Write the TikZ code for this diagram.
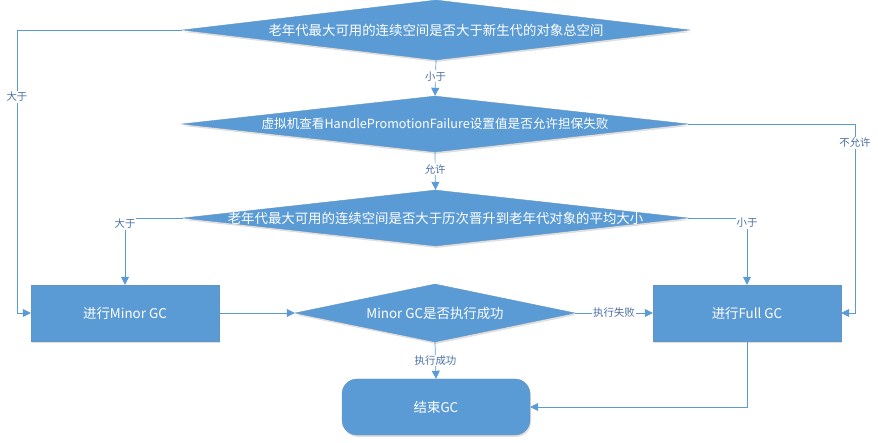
\documentclass[tikz,border=0pt]{standalone}
\usepackage{fontspec}
\setmainfont{Noto Sans CJK SC}
\usetikzlibrary{shapes.geometric,arrows.meta,shadows}
\definecolor{fillblue}{HTML}{5B9BD5}
\definecolor{lineblue}{HTML}{5B9BD5}
\definecolor{lblcol}{HTML}{4A6FA5}
\tikzset{
  shp/.style={fill=fillblue, draw=fillblue!80!gray, line width=0.4pt, text=white,
    font=\fontsize{13.4}{15}\selectfont, inner sep=0pt,
    drop shadow={shadow xshift=1pt, shadow yshift=-2pt, opacity=0.25, fill=gray}},
  dia/.style={shp, diamond, shape aspect=9, inner ysep=-4pt},
  boxn/.style={shp, rectangle, minimum width=188pt, minimum height=56pt},
  conn/.style={draw=lineblue, line width=0.7pt, -{Triangle[length=8pt,width=8pt]}},
  lbl/.style={fill=white, text=lblcol, font=\fontsize{10.4}{12}\selectfont, inner sep=1pt}
}
\begin{document}
\begin{tikzpicture}[x=1pt,y=-1pt]
\useasboundingbox (0,0) rectangle (878,443);
\node[dia, minimum width=507pt, minimum height=60pt] (d1) at (436,30) {老年代最大可用的连续空间是否大于新生代的对象总空间};
\node[dia, minimum width=506pt, minimum height=56pt, font=\fontsize{12.6}{15}\selectfont] (d2) at (435,124) {虚拟机查看HandlePromotionFailure设置值是否允许担保失败};
\node[dia, minimum width=505pt, minimum height=56pt] (d3) at (435.5,218) {老年代最大可用的连续空间是否大于历次晋升到老年代对象的平均大小};
\node[boxn] (minor) at (125,313) {进行Minor GC};
\node[boxn] (full) at (747,313) {进行Full GC};
\node[dia, shape aspect=5, minimum width=280pt, minimum height=58pt] (d4) at (435,313) {Minor GC是否执行成功};
\node[shp, rectangle, rounded corners=15pt, minimum width=188pt, minimum height=56pt] (endn) at (436,407) {结束GC};

\coordinate (c1) at (17,30);
\coordinate (c2) at (125,218);
\coordinate (c3) at (747,218);
\coordinate (c4) at (855,124);
\coordinate (c5) at (747,407);

\draw[conn] (d1.south) -- node[lbl, pos=0.45] (l1) {小于} (d2.north);
\draw[conn] (d2.south) -- node[lbl, pos=0.45] (l2) {允许} (d3.north);
\draw[conn] (d1.west) -- (c1) |- (minor.west);
\node[lbl] (l3) at (17,97) {大于};
\draw[conn] (d3.west) -- (c2) -- (minor.north);
\node[lbl] (l4) at (125,224) {大于};
\draw[conn] (d3.east) -- (c3) -- (full.north);
\node[lbl] (l5) at (747,223) {小于};
\draw[conn] (d2.east) -- (c4) |- (full.east);
\node[lbl] (l6) at (855,143) {不允许};
\draw[conn] (minor.east) -- (d4.west);
\draw[conn] (d4.east) -- node[lbl, pos=0.5] (l7) {执行失败} (full.west);
\draw[conn] (d4.south) -- node[lbl, pos=0.5] (l8) {执行成功} (endn.north);
\draw[conn] (full.south) -- (c5) -- (endn.east);
\end{tikzpicture}
\end{document}
